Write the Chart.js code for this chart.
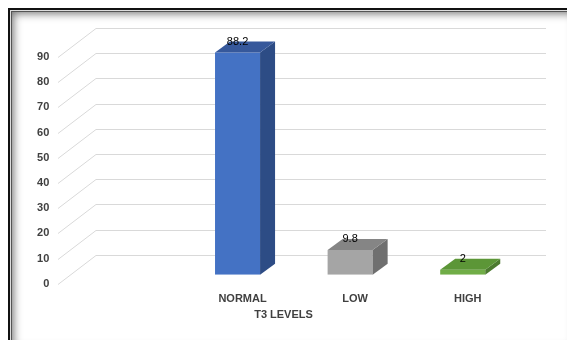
<!DOCTYPE html>
<html>
<head>
<meta charset="utf-8">
<script src="https://cdn.jsdelivr.net/npm/chart.js@4"></script>
<style>
  html, body { margin: 0; padding: 0; background: #fff; }
  .wrap { position: relative; width: 567px; height: 340px; overflow: hidden; }
  .frame {
    position: absolute; left: 8px; top: 8px; width: 566px; height: 340px;
    border-left: 2px solid #111; border-top: 2px solid #111;
    box-shadow: inset 1px 1px 0 #ddd, inset 2px 2px 0 #555, inset 4px 4px 8px rgba(0,0,0,0.45), inset -2px -2px 10px rgba(0,0,0,0.35);
  }
  canvas { position: absolute; left: 0; top: 0; }
</style>
</head>
<body>
<div class="wrap">
  <div class="frame"></div>
  <canvas id="myChart" width="567" height="340"></canvas>
</div>
<script>
const categories = ["NORMAL", "LOW", "HIGH"];
const values = [88.2, 9.8, 2];
const yTickMin = 0;
const yTickMax = 90;
const yTickStep = 10;
const axisTitle = "T3 LEVELS";

const frontColors = ["#4472c4", "#a5a5a5", "#70ad47"];
const sideColors = ["#2d4c85", "#6f6f6f", "#4c7a2f"];
const topColors = ["#36589b", "#858585", "#5c9637"];

// 3d depth of the bars and of the back wall
const barDx = 15, barDy = -11;
const wallFrontX = 58, wallBackX = 96, wallRight = 546;
const wallFrontDy = 9, wallBackDy = -20;

const perspectiveGrid = {
    id: "perspectiveGrid",
    beforeDatasetsDraw(chart) {
        const ctx = chart.ctx;
        const yScale = chart.scales.y;
        ctx.save();
        ctx.strokeStyle = "#d9d9d9";
        ctx.lineWidth = 1;
        yScale.ticks.forEach(t => {
            const y = Math.round(yScale.getPixelForValue(t.value)) + 0.5;
            ctx.beginPath();
            ctx.moveTo(wallFrontX, y + wallFrontDy);
            ctx.lineTo(wallBackX, y + wallBackDy);
            ctx.lineTo(wallRight, y + wallBackDy);
            ctx.stroke();
        });
        ctx.restore();
    }
};

const barFaces = {
    id: "barFaces",
    afterDatasetsDraw(chart) {
        const ctx = chart.ctx;
        const meta = chart.getDatasetMeta(0);
        ctx.save();
        meta.data.forEach((bar, i) => {
            const left = bar.x - bar.width / 2;
            const right = bar.x + bar.width / 2;
            const top = bar.y;
            const bottom = bar.base;
            // side face
            ctx.fillStyle = sideColors[i];
            ctx.beginPath();
            ctx.moveTo(right, top);
            ctx.lineTo(right + barDx, top + barDy);
            ctx.lineTo(right + barDx, bottom + barDy);
            ctx.lineTo(right, bottom);
            ctx.closePath();
            ctx.fill();
            // top face
            ctx.fillStyle = topColors[i];
            ctx.beginPath();
            ctx.moveTo(left, top);
            ctx.lineTo(left + barDx, top + barDy);
            ctx.lineTo(right + barDx, top + barDy);
            ctx.lineTo(right, top);
            ctx.closePath();
            ctx.fill();
            // value label
            ctx.fillStyle = "#000";
            ctx.font = "11px 'Liberation Sans', Arial, sans-serif";
            ctx.textAlign = "center";
            ctx.textBaseline = "middle";
            ctx.fillText(values[i], bar.x, top - 11);
        });
        ctx.restore();
    }
};

const ctx = document.getElementById("myChart").getContext("2d");
const myChart = new Chart(ctx, {
    type: "bar",
    data: {
        labels: categories,
        datasets: [{
            data: values,
            backgroundColor: frontColors,
            borderWidth: 0,
            categoryPercentage: 1,
            barPercentage: 0.4,
        }]
    },
    options: {
        responsive: false,
        animation: false,
        layout: { padding: { left: 30, right: 30, top: 48, bottom: 18 } },
        plugins: {
            legend: { display: false },
            tooltip: { enabled: false },
            title: {
                display: true,
                text: axisTitle,
                position: "bottom",
                color: "#404040",
                font: { family: "'Liberation Sans', Arial, sans-serif", size: 11, weight: "bold" },
                padding: { top: 4, bottom: 0 },
            },
        },
        scales: {
            x: {
                grid: { display: false, drawTicks: false },
                border: { display: false },
                ticks: {
                    color: "#404040",
                    font: { family: "'Liberation Sans', Arial, sans-serif", size: 11, weight: "bold" },
                    padding: 18,
                    labelOffset: 5,
                    maxRotation: 0,
                },
                afterFit: (scale) => { scale.height = 30; },
            },
            y: {
                min: yTickMin,
                max: yTickMax,
                grid: { display: false, drawTicks: false },
                border: { display: false },
                ticks: {
                    stepSize: yTickStep,
                    color: "#404040",
                    font: { family: "'Liberation Sans', Arial, sans-serif", size: 11, weight: "bold" },
                    padding: 132,
                    labelOffset: 9,
                },
                afterFit: (scale) => {
                    scale.width = 151.25;
                    scale.paddingTop = 0;
                    scale.paddingBottom = 0;
                },
            },
            // empty right axis, only keeps room on the right side
            yRight: {
                position: "right",
                display: true,
                grid: { display: false, drawTicks: false },
                border: { display: false },
                ticks: { display: false },
                afterFit: (scale) => {
                    scale.width = 18;
                    scale.paddingTop = 0;
                    scale.paddingBottom = 0;
                },
            }
        }
    },
    plugins: [perspectiveGrid, barFaces]
});
</script>
</body>
</html>
